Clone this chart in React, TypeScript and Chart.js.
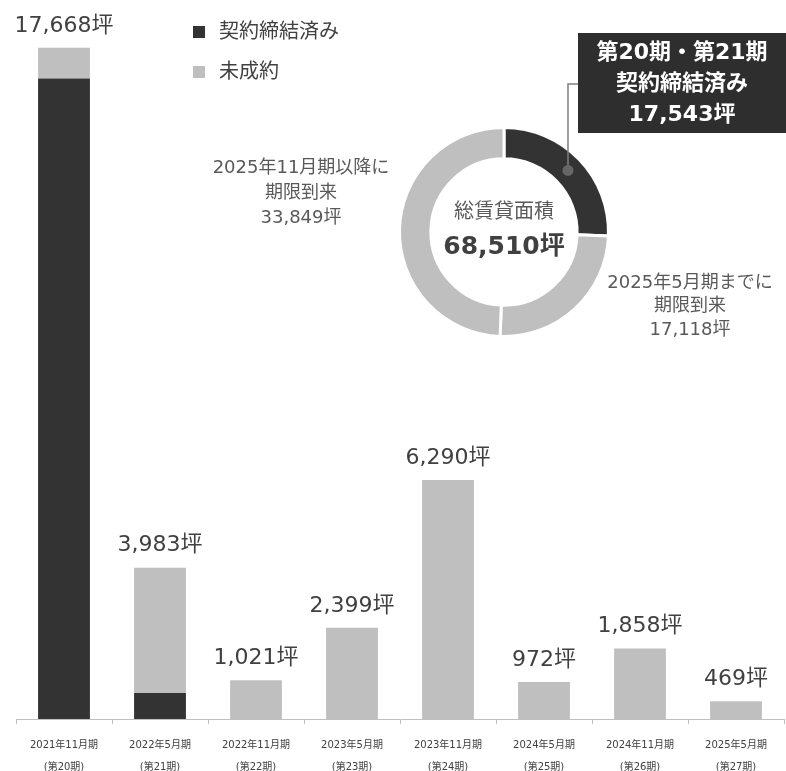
import React, { useEffect, useRef } from "react";
import { Chart, registerables } from "chart.js";

Chart.register(...registerables);

const categories: string[][] = [
  ["2021年11月期", "(第20期)"],
  ["2022年5月期", "(第21期)"],
  ["2022年11月期", "(第22期)"],
  ["2023年5月期", "(第23期)"],
  ["2023年11月期", "(第24期)"],
  ["2024年5月期", "(第25期)"],
  ["2024年11月期", "(第26期)"],
  ["2025年5月期", "(第27期)"],
];
const contracted = [16860, 683, 0, 0, 0, 0, 0, 0];
const uncontracted = [808, 3300, 1021, 2399, 6290, 972, 1858, 469];
const seriesNames = ["契約締結済み", "未成約"];

const donutLabels = ["第20期・第21期 契約締結済み", "2025年5月期までに期限到来", "2025年11月期以降に期限到来"];
const donutValues = [17543, 17118, 33849];

const DARK = "#333333";
const LIGHT = "#bfbfbf";
const TEXT = "#404040";
const FONT = '"DejaVu Sans", "Noto Sans CJK JP", sans-serif';

const fmt = (v: number) => v.toLocaleString("en-US") + "坪";

const barPlugin = {
  id: "barLabels",
  afterDatasetsDraw(chart: any) {
    const ctx = chart.ctx;
    ctx.save();
    ctx.font = `22px ${FONT}`;
    ctx.fillStyle = TEXT;
    ctx.textAlign = "center";
    ctx.textBaseline = "middle";
    const meta = chart.getDatasetMeta(1);
    categories.forEach((_, i) => {
      const total = contracted[i] + uncontracted[i];
      const el = meta.data[i];
      ctx.fillText(fmt(total), el.x, el.y - 22);
    });
    // legend
    ctx.font = `20px ${FONT}`;
    ctx.textAlign = "left";
    chart.data.datasets.forEach((ds: any, i: number) => {
      const y = 32 + i * 40;
      ctx.fillStyle = ds.backgroundColor;
      ctx.fillRect(193, y - 6, 12, 12);
      ctx.fillStyle = TEXT;
      ctx.fillText(ds.label, 219, y + 1);
    });
    ctx.restore();
  },
};

const donutPlugin = {
  id: "donutLabels",
  afterDatasetsDraw(chart: any) {
    const ctx = chart.ctx;
    const meta = chart.getDatasetMeta(0);
    const arc = meta.data[0];
    const cx = arc.x;
    const cy = arc.y;
    const total = donutValues.reduce((a, b) => a + b, 0);
    ctx.save();
    ctx.textAlign = "center";
    ctx.textBaseline = "middle";
    ctx.fillStyle = "#595959";
    ctx.font = `20px ${FONT}`;
    ctx.fillText("総賃貸面積", cx, cy - 19);
    ctx.fillStyle = TEXT;
    ctx.font = `bold 25px ${FONT}`;
    ctx.fillText(fmt(total), cx, cy + 15);

    ctx.font = `18px ${FONT}`;
    ctx.fillStyle = "#595959";
    const left = ["2025年11月期以降に", "期限到来", fmt(donutValues[2])];
    left.forEach((t, i) => ctx.fillText(t, 301, 168 + i * 25));
    const right = ["2025年5月期までに", "期限到来", fmt(donutValues[1])];
    right.forEach((t, i) => ctx.fillText(t, 690, 283 + i * 23.5));

    // callout
    const p = arc.tooltipPosition();
    ctx.strokeStyle = "#7f7f7f";
    ctx.lineWidth = 1.5;
    ctx.beginPath();
    ctx.moveTo(p.x, p.y);
    ctx.lineTo(p.x, 84);
    ctx.lineTo(578, 84);
    ctx.stroke();
    ctx.fillStyle = "#666666";
    ctx.beginPath();
    ctx.arc(p.x, p.y, 5.5, 0, Math.PI * 2);
    ctx.fill();

    ctx.fillStyle = "#2e2e2e";
    ctx.fillRect(578, 33, 210, 100);
    ctx.fillStyle = "#ffffff";
    ctx.font = `bold 22px ${FONT}`;
    ctx.fillText("第20期・第21期", 682, 53);
    ctx.fillText("契約締結済み", 682, 84);
    ctx.fillText(fmt(donutValues[0]), 682, 115);
    ctx.restore();
  },
};

export default function App() {
  const barRef = useRef<HTMLCanvasElement>(null);
  const donutRef = useRef<HTMLCanvasElement>(null);

  useEffect(() => {
    const bar = new Chart(barRef.current!, {
      type: "bar",
      data: {
        labels: categories,
        datasets: [
          { label: seriesNames[0], data: contracted, backgroundColor: DARK, borderWidth: 0 },
          { label: seriesNames[1], data: uncontracted, backgroundColor: LIGHT, borderWidth: 0 },
        ],
      },
      options: {
        responsive: false,
        animation: false,
        events: [],
        layout: { padding: { left: 16, right: 2, top: 0, bottom: 2 } },
        plugins: { legend: { display: false }, tooltip: { enabled: false } },
        datasets: { bar: { barPercentage: 0.54, categoryPercentage: 1 } },
        scales: {
          x: {
            stacked: true,
            grid: { display: true, drawOnChartArea: false, drawTicks: true, tickLength: 5, color: "#bfbfbf", offset: true },
            border: { display: true, color: "#bfbfbf", width: 1 },
            ticks: { font: { size: 10, family: FONT, lineHeight: 2.2 }, color: TEXT, padding: 10, maxRotation: 0, autoSkip: false },
          },
          y: { stacked: true, display: false, min: 0, max: 18928 },
        },
      },
      plugins: [barPlugin],
    } as any);

    const donut = new Chart(donutRef.current!, {
      type: "doughnut",
      data: {
        labels: donutLabels,
        datasets: [
          {
            data: donutValues,
            backgroundColor: [DARK, LIGHT, LIGHT],
            borderColor: "#ffffff",
            borderWidth: 3,
          },
        ],
      },
      options: {
        responsive: false,
        animation: false,
        events: [],
        cutout: "70%",
        layout: { padding: { left: 398, right: 176, top: 126, bottom: 433 } },
        plugins: { legend: { display: false }, tooltip: { enabled: false } },
      },
      plugins: [donutPlugin],
    } as any);

    return () => {
      bar.destroy();
      donut.destroy();
    };
  }, []);

  return (
    <div style={{ position: "fixed", left: 0, top: 0, width: 786, height: 771, overflow: "hidden", background: "#fff" }}>
      <canvas ref={barRef} width={786} height={790} style={{ position: "absolute", left: 0, top: 0 }} />
      <canvas ref={donutRef} width={786} height={771} style={{ position: "absolute", left: 0, top: 0 }} />
    </div>
  );
}
